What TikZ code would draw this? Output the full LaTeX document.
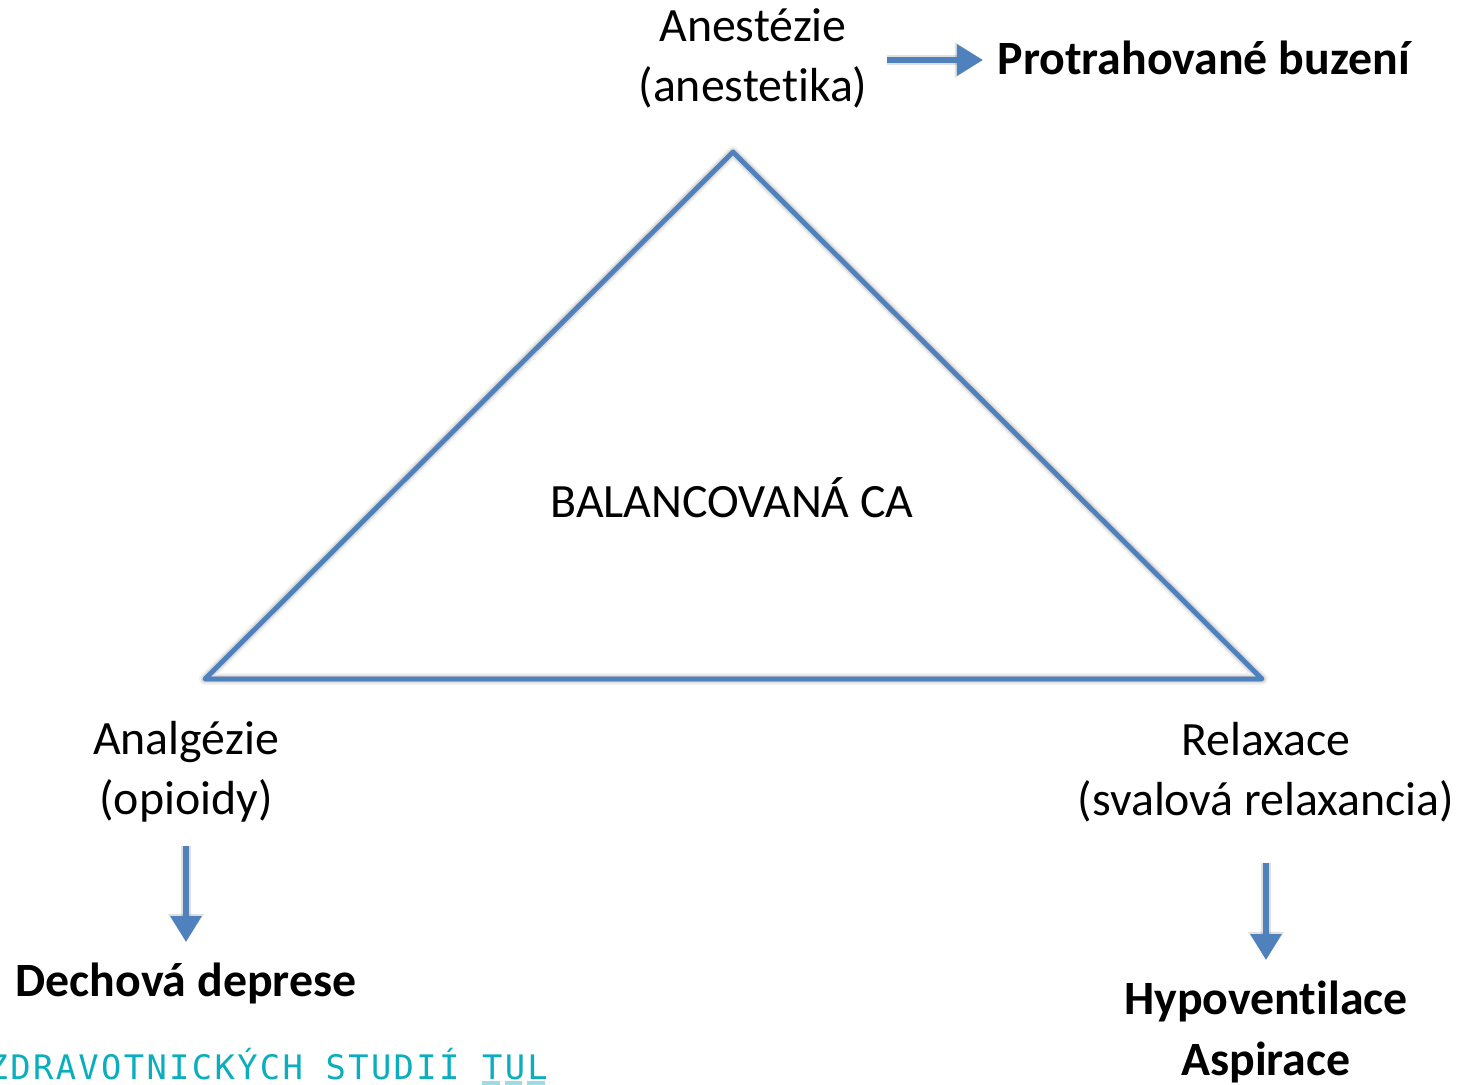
\documentclass[tikz,border=0pt]{standalone}
\usepackage{fontspec}
\setmainfont{Carlito}[Ligatures={NoCommon}]
\newfontfamily\footfont{DejaVu Sans Mono}[LetterSpace=7]
\usetikzlibrary{arrows.meta}
\definecolor{ofblue}{RGB}{79,129,189}
\definecolor{footteal}{RGB}{10,174,190}
\definecolor{footlight}{RGB}{160,218,226}
\tikzset{
  lbl/.style={align=center, inner sep=0pt, font=\fontsize{13.6pt}{17.1pt}\selectfont},
  boldlbl/.style={lbl, font=\fontsize{13.6pt}{17.1pt}\selectfont\bfseries},
  arr/.style={draw=ofblue, line width=1.7pt, -{Triangle[length=0.26cm,width=0.3cm]}},
  arrshadow/.style={draw=black, opacity=0.12, line width=2.6pt, -{Triangle[length=0.28cm,width=0.34cm]}},
  edge/.style={draw=ofblue, line width=1.35pt, line join=round, line cap=round},
  edgeshadow/.style={draw=black, line join=round, line cap=round}
}
\begin{document}
\begin{tikzpicture}[x=0.01cm, y=-0.01cm]
  \useasboundingbox[fill=white] (0,0) rectangle (1463,1084);

  % corners of the triangle
  \coordinate (top) at (733,152);
  \coordinate (bl) at (205,679);
  \coordinate (br) at (1262,679);

  % soft shadow under the triangle
  \foreach \w/\o in {3.4pt/0.05, 2.4pt/0.08, 1.6pt/0.10}{
    \draw[edgeshadow, line width=\w, opacity=\o, xshift=0.03cm, yshift=-0.045cm]
      (top) -- (br) -- (bl) -- cycle;
  }
  \draw[edge] (top) -- (br) -- (bl) -- cycle;

  % labels
  \node[lbl] (anest) at (753,58) {Anestézie\\(anestetika)};
  \node[boldlbl, anchor=west] (buzeni) at (997,58) {Protrahované buzení};
  \node[lbl] (balanc) at (732,498) {BALANCOVANÁ CA};
  \node[lbl] (analg) at (186,772) {Analgézie\\(opioidy)};
  \node[boldlbl] (dech) at (186,983) {Dechová deprese};
  \node[lbl] (relax) at (1266,772) {Relaxace\\(svalová relaxancia)};
  \node[boldlbl] (hypo) at (1266,1032) {Hypoventilace\\Aspirace};

  % arrows with faint shadows
  \coordinate (a1s) at (887,60);
  \coordinate (a1e) at (983,60);
  \coordinate (a2s) at (186,846);
  \coordinate (a2e) at (186,942);
  \coordinate (a3s) at (1266,863);
  \coordinate (a3e) at (1266,960);
  \begin{scope}[xshift=0.02cm, yshift=-0.04cm]
    \draw[arrshadow] (a1s) -- (a1e);
    \draw[arrshadow] (a2s) -- (a2e);
    \draw[arrshadow] (a3s) -- (a3e);
  \end{scope}
  \draw[arr] (a1s) -- (a1e);
  \draw[arr] (a2s) -- (a2e);
  \draw[arr] (a3s) -- (a3e);

  % footer line of the institution
  \node[anchor=west, inner sep=0pt, text=footteal,
        font=\footfont\fontsize{9.6pt}{12pt}\selectfont] (foot) at (-13,1064)
        {ZDRAVOTNICKÝCH STUDIÍ TUL};
  \draw[footlight, line width=0.9pt] (482,1083) -- (500,1083)
    (505,1083) -- (522,1083) (527,1083) -- (545,1083);
\end{tikzpicture}
\end{document}
